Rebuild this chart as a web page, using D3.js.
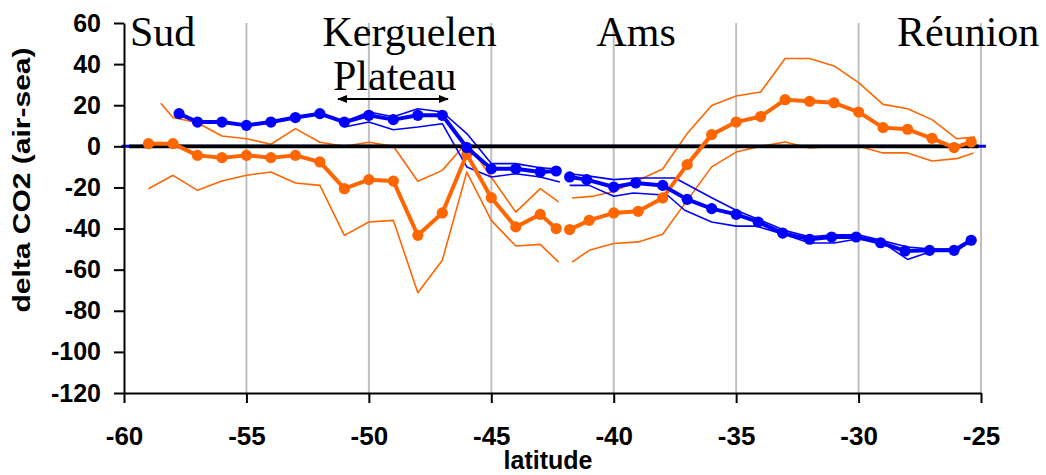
<!DOCTYPE html>
<html>
<head>
<meta charset="utf-8">
<script src="https://cdn.jsdelivr.net/npm/d3@7"></script>
<style>
  html, body { margin: 0; padding: 0; background: #fff; }
  svg { display: block; }
</style>
</head>
<body>
<svg id="chart" width="1046" height="475"></svg>
<script>
// ---------- data ----------
const xTicks = [-60, -55, -50, -45, -40, -35, -30, -25];
const yTicks = [60, 40, 20, 0, -20, -40, -60, -80, -100, -120];

// orange (main, with markers) – southern and northern sections
const orangeSouthLat = [-59, -58, -57, -56, -55, -54, -53, -52, -51, -50, -49, -48, -47, -46, -45, -44, -43, -42.35];
const orangeSouthVal = [1.3, 1.3, -4.4, -5.5, -4.4, -5.5, -4.4, -7.6, -20.6, -16.2, -16.9, -43.3, -32.4, -3.9, -25, -39.2, -33.1, -40];
const orangeNorthLat = [-41.8, -41, -40, -39, -38, -37, -36, -35, -34, -33, -32, -31, -30, -29, -28, -27, -26.1, -25.4];
const orangeNorthVal = [-40.5, -36, -32.4, -31.6, -25.1, -8.9, 5.7, 11.8, 14.5, 22.7, 21.9, 21.2, 16.7, 9.1, 8.3, 3.9, -0.6, 2.1];

// orange envelope (thin lines)
const orangeUpSouthLat = [-58.5, -58, -57, -56, -55, -54, -53, -52, -51, -50, -49, -48, -47, -46, -45, -44, -43, -42.25];
const orangeUpSouthVal = [21, 14, 11.5, 5, 3.7, 1, 8.6, 2, 0, 2, 0, -17, -11.7, 2, -15, -32, -20.6, -27];
const orangeLoSouthLat = [-59, -58, -57, -56, -55, -54, -53, -52, -51, -50, -49, -48, -47, -46, -45, -44, -43, -42.25];
const orangeLoSouthVal = [-20.6, -14.1, -21.4, -16.9, -14.1, -12.5, -17.8, -19, -43.3, -36.8, -36, -71.2, -55.4, -12.5, -36, -48.5, -47.7, -56.3];
const orangeUpNorthLat = [-41.7, -40.8, -40, -39, -38, -37, -36, -35, -34, -33, -32, -31, -30, -29, -28, -27, -26, -25.25];
const orangeUpNorthVal = [-25.1, -24.2, -22, -16.5, -11, 6.2, 19.9, 24.5, 26.4, 42.7, 42.7, 39.1, 31, 20.4, 18.3, 13, 3.7, 4.5];
const orangeLoNorthLat = [-41.7, -41, -40, -39, -38, -37, -36, -35, -34, -33, -32, -31, -30, -29, -28, -27, -26, -25.3];
const orangeLoNorthVal = [-56.3, -50.6, -47.3, -46.5, -42.8, -26.3, -10, -2.8, 0, 2.1, -0.8, 0, 0, -3.2, -3.2, -7.1, -6, -3.2];

// blue (main, with markers)
const blueSouthLat = [-57.75, -57, -56, -55, -54, -53, -52, -51, -50, -49, -48, -47, -46, -45, -44, -43, -42.35];
const blueSouthVal = [15.9, 11.8, 11.8, 10.2, 11.8, 14, 15.9, 11.8, 15.1, 13, 15.1, 15.1, -0.6, -10.9, -10.9, -12.5, -12];
const blueNorthLat = [-41.8, -41.1, -40, -39.1, -38, -37, -36, -35, -34.1, -33.1, -32, -31.1, -30.1, -29.1, -28.1, -27.1, -26.1, -25.4];
const blueNorthVal = [-14.9, -16.2, -19.8, -17.8, -19, -25.8, -30.3, -33.1, -36.8, -42.2, -45.2, -44.1, -44.1, -46.9, -50.9, -50.6, -50.6, -45.7];

// blue envelope (thin lines)
const blueUpSouthLat = [-51, -50, -49, -48, -47, -46, -45, -44, -43, -42.25];
const blueUpSouthVal = [12, 16.7, 14.4, 18.3, 16.7, 6.2, -8.4, -8.4, -10.4, -11];
const blueLoSouthLat = [-51, -50, -49, -48, -47, -46, -45, -44, -43, -42.2];
const blueLoSouthVal = [9.4, 11.8, 8.1, 9.4, 11, -10, -14.9, -13.3, -14.9, -17.4];
const blueUpNorthLat = [-41.8, -41, -40, -39, -38, -37.5, -36, -35, -34, -33, -32, -31, -30, -29, -28, -27, -26, -25.4];
const blueUpNorthVal = [-13.3, -14.5, -16.2, -15.4, -15.4, -15.4, -25, -31.1, -36, -41, -44, -43, -43, -46, -49, -50, -50, -45];
const blueLoNorthLat = [-41.8, -41, -40, -39.2, -37.8, -37.1, -36, -35, -34.2, -33, -32, -31, -30, -29, -28, -27, -26, -25.4];
const blueLoNorthVal = [-19, -19, -24.3, -22.7, -23.8, -31.1, -36.8, -38.8, -38.8, -43, -47, -47, -45, -47, -55, -51, -51, -46];

// zero reference lines
const zeroBlueLat = [-60.1, -24.8];
const zeroBlackLat = [-59.8, -25.1];

// ---------- chart ----------
const svg = d3.select('#chart');
const x = d3.scaleLinear().domain([-60, -25]).range([124, 981]);
const y = d3.scaleLinear().domain([-120, 60]).range([393, 23]);

const BLUE = '#0000ff', ORANGE = '#ff6600';
const SANS = '"Liberation Sans", Arial, sans-serif';
const SERIF = '"Liberation Serif", "Times New Roman", serif';

// grid lines
svg.append('g').selectAll('line')
  .data(xTicks.filter(d => d !== -60))
  .join('line')
  .attr('x1', d => x(d)).attr('x2', d => x(d))
  .attr('y1', y(60)).attr('y2', y(-120))
  .attr('stroke', '#c0c0c0').attr('stroke-width', 2);

const line = d3.line().x(d => x(d[0])).y(d => y(d[1]));
const zip = (a, b) => a.map((v, i) => [v, b[i]]);

function drawLine(lat, val, color, width) {
  svg.append('path').datum(zip(lat, val))
    .attr('d', line).attr('fill', 'none')
    .attr('stroke', color).attr('stroke-width', width)
    .attr('stroke-linejoin', 'round');
}
function drawMarkers(lat, val, color) {
  svg.append('g').selectAll('circle').data(zip(lat, val)).join('circle')
    .attr('cx', d => x(d[0])).attr('cy', d => y(d[1])).attr('r', 5.6)
    .attr('fill', color);
}

// thin envelopes
drawLine(orangeUpSouthLat, orangeUpSouthVal, ORANGE, 1.6);
drawLine(orangeLoSouthLat, orangeLoSouthVal, ORANGE, 1.6);
drawLine(orangeUpNorthLat, orangeUpNorthVal, ORANGE, 1.6);
drawLine(orangeLoNorthLat, orangeLoNorthVal, ORANGE, 1.6);
drawLine(blueUpSouthLat, blueUpSouthVal, BLUE, 1.6);
drawLine(blueLoSouthLat, blueLoSouthVal, BLUE, 1.6);
drawLine(blueUpNorthLat, blueUpNorthVal, BLUE, 1.6);
drawLine(blueLoNorthLat, blueLoNorthVal, BLUE, 1.6);

// zero lines
drawLine(zeroBlueLat, [0, 0], BLUE, 3);
drawLine(zeroBlackLat, [0, 0], '#000', 3.8);

// main series
drawLine(orangeSouthLat, orangeSouthVal, ORANGE, 4);
drawLine(orangeNorthLat, orangeNorthVal, ORANGE, 4);
drawMarkers(orangeSouthLat, orangeSouthVal, ORANGE);
drawMarkers(orangeNorthLat, orangeNorthVal, ORANGE);
drawLine(blueSouthLat, blueSouthVal, BLUE, 4);
drawLine(blueNorthLat, blueNorthVal, BLUE, 4);
drawMarkers(blueSouthLat, blueSouthVal, BLUE);
drawMarkers(blueNorthLat, blueNorthVal, BLUE);

// axes
const fmt = d => String(d);
const yAxis = svg.append('g').attr('transform', `translate(${x(-60)},0)`)
  .call(d3.axisLeft(y).tickValues(yTicks).tickFormat(fmt).tickSize(10).tickSizeOuter(0).tickPadding(13));
const xAxis = svg.append('g').attr('transform', `translate(0,${y(-120)})`)
  .call(d3.axisBottom(x).tickValues(xTicks).tickFormat(fmt).tickSize(10).tickSizeOuter(0).tickPadding(24));
[yAxis, xAxis].forEach(g => {
  g.selectAll('path, line').attr('stroke', '#000').attr('stroke-width', 2);
  g.selectAll('text').attr('font-family', SANS).attr('font-weight', 'bold').attr('fill', '#000');
});
yAxis.selectAll('text').attr('font-size', 25);
xAxis.selectAll('text').attr('font-size', 26);

// axis titles
svg.append('text').attr('x', 548).attr('y', 469).attr('text-anchor', 'middle')
  .attr('font-family', SANS).attr('font-weight', 'bold').attr('font-size', 25)
  .text('latitude');
svg.append('text').attr('transform', 'translate(30,180) rotate(-90)').attr('text-anchor', 'middle')
  .attr('font-family', SANS).attr('font-weight', 'bold').attr('font-size', 24)
  .attr('textLength', 265).attr('lengthAdjust', 'spacingAndGlyphs')
  .text('delta CO2 (air-sea)');

// region annotations
const labels = [
  { t: 'Sud', px: 130, py: 46 },
  { t: 'Kerguelen', px: 322.5, py: 46 },
  { t: 'Plateau', px: 333, py: 90 },
  { t: 'Ams', px: 596.5, py: 46 },
  { t: 'Réunion', px: 897, py: 46 }
];
svg.append('g').selectAll('text').data(labels).join('text')
  .attr('x', d => d.px).attr('y', d => d.py)
  .attr('font-family', SERIF).attr('font-size', 42).attr('fill', '#000')
  .text(d => d.t);

// double arrow under "Plateau"
const defs = svg.append('defs');
defs.append('marker').attr('id', 'ah').attr('viewBox', '0 0 10 10')
  .attr('refX', 9).attr('refY', 5).attr('markerWidth', 10).attr('markerHeight', 10)
  .attr('markerUnits', 'userSpaceOnUse').attr('orient', 'auto-start-reverse')
  .append('path').attr('d', 'M0,1 L10,5 L0,9 Z').attr('fill', '#000');
svg.append('line').attr('x1', 338).attr('x2', 448).attr('y1', 99).attr('y2', 99)
  .attr('stroke', '#000').attr('stroke-width', 2)
  .attr('marker-start', 'url(#ah)').attr('marker-end', 'url(#ah)');
</script>
</body>
</html>
